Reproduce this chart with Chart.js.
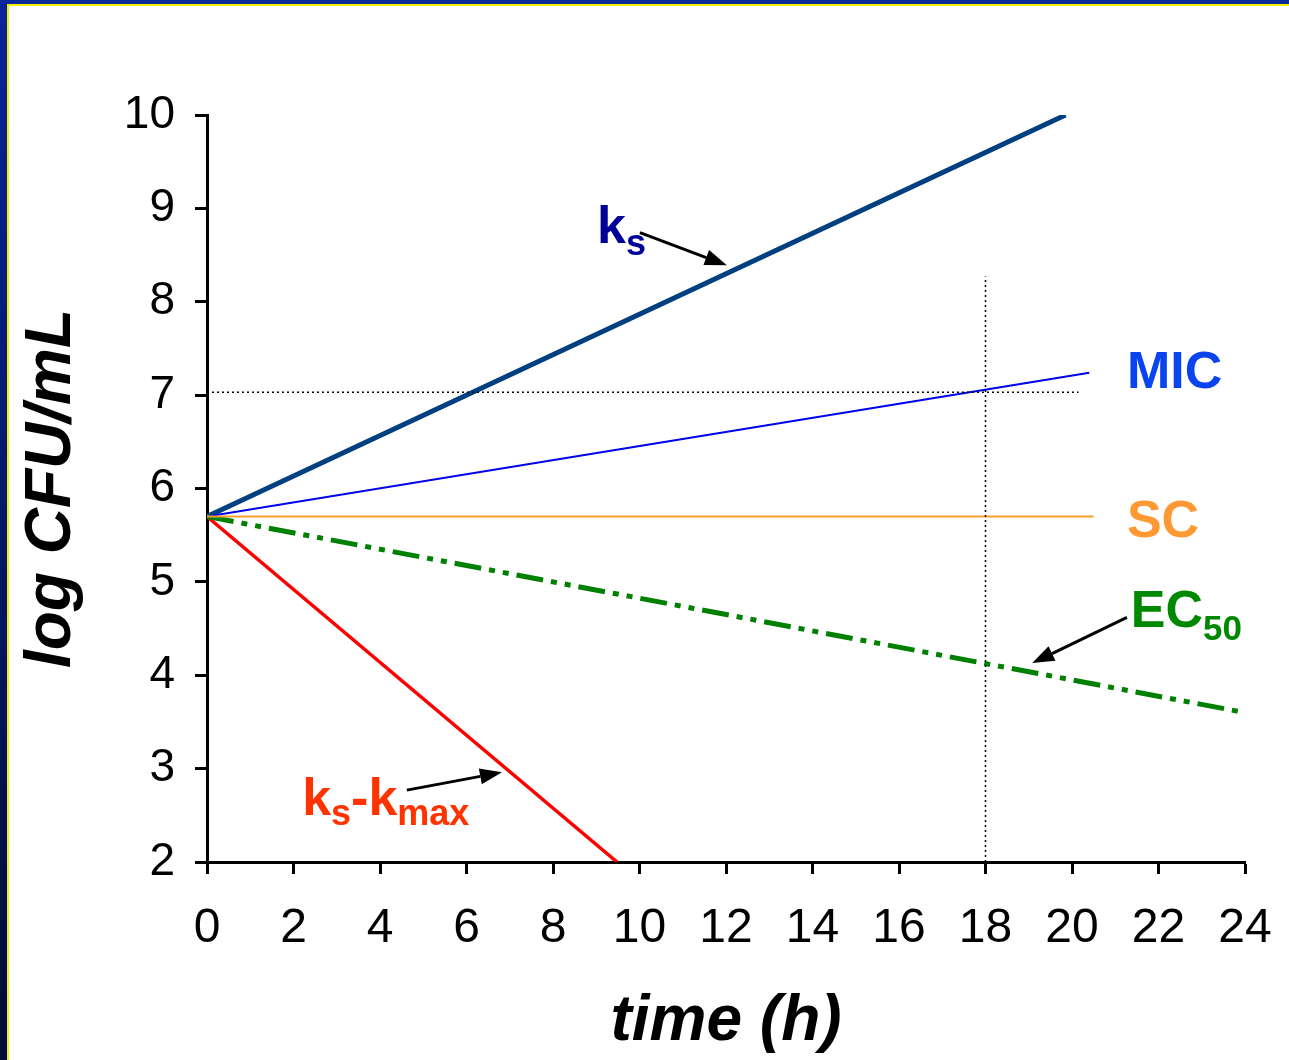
<!DOCTYPE html>
<html>
<head>
<meta charset="utf-8">
<script src="https://cdn.jsdelivr.net/npm/chart.js@4.4.1/dist/chart.umd.min.js"></script>
<style>
  html, body { margin: 0; padding: 0; background: #ffffff; overflow: hidden; }
  #frame-left  { position: absolute; left: 0; top: 0; width: 7px; height: 1060px;
                 background: linear-gradient(to bottom, #0a2399, #000c33); }
  #frame-top   { position: absolute; left: 0; top: 0; width: 1289px; height: 4px; background: #0a2a9c; }
  #line-left   { position: absolute; left: 7px; top: 4px; width: 2px; height: 1056px; background: #f2f200; }
  #line-top    { position: absolute; left: 7px; top: 4px; width: 1282px; height: 2px; background: #f2f200; }
  #chart       { position: absolute; left: 0; top: 0; }
</style>
</head>
<body>
<div id="frame-left"></div>
<div id="frame-top"></div>
<div id="line-left"></div>
<div id="line-top"></div>
<canvas id="chart" width="1289" height="1060"></canvas>
<script>
// Tick values
const xTickValues = [0, 2, 4, 6, 8, 10, 12, 14, 16, 18, 20, 22, 24];
const yTickValues = [2, 3, 4, 5, 6, 7, 8, 9, 10];

// Model curves (time h, log CFU/mL)
const ksPoints     = [{ x: 0, y: 5.7 }, { x: 19.85, y: 10.0 }];
const micPoints    = [{ x: 0, y: 5.7 }, { x: 20.4,  y: 7.24 }];
const scPoints     = [{ x: 0, y: 5.7 }, { x: 20.5,  y: 5.7 }];
const ec50Points   = [{ x: 0, y: 5.7 }, { x: 24.0,  y: 3.6 }];
const kmaxPoints   = [{ x: 0, y: 5.7 }, { x: 9.48,  y: 2.0 }];
const micHLine     = [{ x: 0, y: 7.03 }, { x: 20.15, y: 7.03 }];
const micVLine     = [{ x: 18, y: 2.0 }, { x: 18,   y: 8.27 }];

const fontFamily = 'Arial, "Liberation Sans", sans-serif';

/**
 * Labels and arrows, anchored in data units
 */
const curveLabels = [
    { x: 9.02,  y: 8.63, color: '#000099', runs: [ ['k', 52, 0], ['s', 36, 12] ] },
    { x: 21.27, y: 7.08, color: '#0a44ee', runs: [ ['MIC', 52, 0] ] },
    { x: 21.27, y: 5.48, color: '#ff9933', runs: [ ['SC', 52, 0] ] },
    { x: 21.36, y: 4.52, color: '#008800', runs: [ ['EC', 52, 0], ['50', 35, 13] ] },
    { x: 2.20,  y: 2.50, color: '#ff3300', runs: [ ['k', 52, 0], ['s', 36, 10], ['-', 52, 0], ['k', 52, 0], ['max', 36, 10] ] }
];

const curveArrows = [
    { from: [10.01, 8.74], to: [12.02, 8.39] },
    { from: [4.62,  2.77], to: [6.82,  2.96] },
    { from: [21.27, 4.62], to: [19.08, 4.13] }
];

const annotationPlugin = {
    id: 'annotations',
    afterDatasetsDraw( chart ) {
        let ctx = chart.ctx;
        let xs  = chart.scales.x;
        let ys  = chart.scales.y;

        ctx.save();
        ctx.textBaseline = 'alphabetic';
        ctx.textAlign    = 'left';

        curveLabels.forEach( function( label ) {
            let px = xs.getPixelForValue( label.x );
            let py = ys.getPixelForValue( label.y );
            ctx.fillStyle = label.color;
            label.runs.forEach( function( run ) {
                ctx.font = 'bold ' + run[1] + 'px ' + fontFamily;
                ctx.fillText( run[0], px, py + run[2] );
                px += ctx.measureText( run[0] ).width;
            });
        });

        ctx.strokeStyle = '#000000';
        ctx.fillStyle   = '#000000';
        ctx.lineWidth   = 3;

        curveArrows.forEach( function( arrow ) {
            let x1 = xs.getPixelForValue( arrow.from[0] );
            let y1 = ys.getPixelForValue( arrow.from[1] );
            let x2 = xs.getPixelForValue( arrow.to[0] );
            let y2 = ys.getPixelForValue( arrow.to[1] );
            let ang = Math.atan2( y2 - y1, x2 - x1 );
            let head = 22, half = 8;
            let bx = x2 - head * Math.cos( ang );
            let by = y2 - head * Math.sin( ang );

            ctx.beginPath();
            ctx.moveTo( x1, y1 );
            ctx.lineTo( bx, by );
            ctx.stroke();

            ctx.beginPath();
            ctx.moveTo( x2, y2 );
            ctx.lineTo( bx + half * Math.sin( ang ), by - half * Math.cos( ang ) );
            ctx.lineTo( bx - half * Math.sin( ang ), by + half * Math.cos( ang ) );
            ctx.closePath();
            ctx.fill();
        });

        ctx.restore();
    }
};

function lineSet( points, color, width, dash ) {
    return {
        data:            points,
        borderColor:     color,
        borderWidth:     width,
        borderDash:      dash || [],
        borderCapStyle:  'butt',
        pointRadius:     0,
        tension:         0,
        fill:            false
    };
}

new Chart( document.getElementById( 'chart' ), {
    type: 'line',
    data: {
        datasets: [
            lineSet( micHLine,   '#000000', 1.5, [ 2, 3 ] ),
            lineSet( micVLine,   '#000000', 1.5, [ 2, 3 ] ),
            lineSet( scPoints,   '#f7a030', 2 ),
            lineSet( micPoints,  '#0000ee', 2 ),
            lineSet( ec50Points, '#008000', 5, [ 27, 8, 6, 8, 6, 8 ] ),
            lineSet( kmaxPoints, '#ff0000', 3.5 ),
            lineSet( ksPoints,   '#004080', 5 )
        ]
    },
    options: {
        responsive: false,
        animation:  false,
        layout: { padding: { left: 0, top: 115, right: 0, bottom: 0 } },
        plugins: {
            legend:  { display: false },
            tooltip: { enabled: false }
        },
        scales: {
            x: {
                type: 'linear',
                min: 0,
                max: 24,
                afterBuildTicks: function( scale ) {
                    scale.ticks = xTickValues.map( function( v ) { return { value: v }; } );
                },
                afterFit: function( scale ) {
                    scale.height       = 198;
                    scale.paddingLeft  = 0;
                    scale.paddingRight = 44;
                },
                grid:   { drawOnChartArea: false, tickLength: 12, tickWidth: 3, tickColor: '#000000' },
                border: { color: '#000000', width: 3 },
                ticks:  { color: '#000000', padding: 26, maxRotation: 0, autoSkip: false,
                          font: { family: fontFamily, size: 48 } },
                title:  { display: true, text: 'time (h)', color: '#000000', padding: { top: 0, bottom: 6 },
                          font: { family: fontFamily, size: 64, weight: 'bold', style: 'italic', lineHeight: 1 } }
            },
            y: {
                type: 'linear',
                min: 2,
                max: 10,
                afterBuildTicks: function( scale ) {
                    scale.ticks = yTickValues.map( function( v ) { return { value: v }; } );
                },
                afterFit: function( scale ) { scale.width = 207; },
                grid:   { drawOnChartArea: false, tickLength: 12, tickWidth: 3, tickColor: '#000000' },
                border: { color: '#000000', width: 3 },
                ticks:  { color: '#000000', padding: 20, autoSkip: false,
                          font: { family: fontFamily, size: 46 } },
                title:  { display: true, text: 'log CFU/mL', color: '#000000', padding: { top: 20, bottom: 0 },
                          font: { family: fontFamily, size: 64, weight: 'bold', style: 'italic', lineHeight: 1 } }
            }
        }
    },
    plugins: [ annotationPlugin ]
});
</script>
</body>
</html>
